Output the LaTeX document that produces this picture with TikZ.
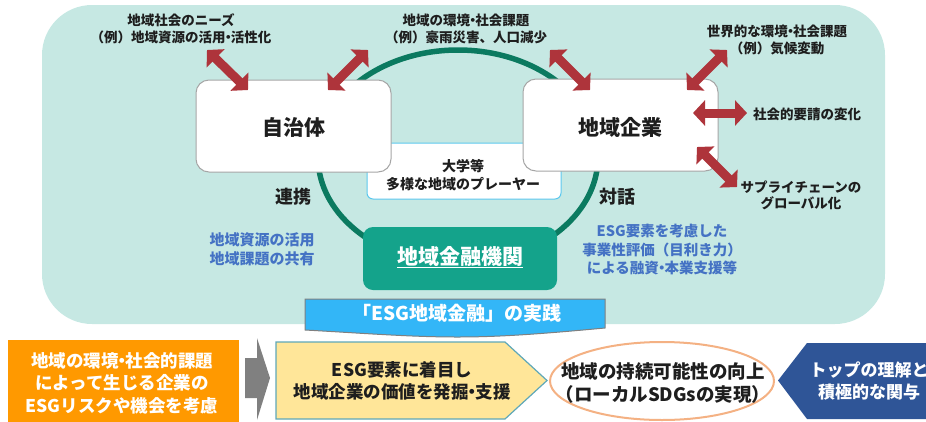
\documentclass[tikz,border=0pt]{standalone}
\usepackage{fontspec}
\setmainfont{Noto Sans CJK JP}
\usetikzlibrary{arrows.meta,shapes.geometric}
\newcommand\nkg{\makebox[0.4em]{・}}
\definecolor{bgteal}{HTML}{C6E8E3}
\definecolor{ringgreen}{HTML}{0B7A60}
\definecolor{arrowred}{HTML}{AE343B}
\definecolor{fingreen}{HTML}{14A38B}
\definecolor{bannerblue}{HTML}{33B6F7}
\definecolor{textblue}{HTML}{4472C4}
\definecolor{boxorange}{HTML}{FF9900}
\definecolor{boxyellow}{HTML}{FFE699}
\definecolor{yellowedge}{HTML}{5FA8B8}
\definecolor{peach}{HTML}{F4B183}
\definecolor{darkblue}{HTML}{2F5597}
\definecolor{arrowgray}{HTML}{808080}
\definecolor{boxgray}{HTML}{A6A6A6}
\definecolor{lightedge}{HTML}{5BC8EE}
\definecolor{ink}{HTML}{1E1E1E}
\begin{document}
\begin{tikzpicture}[x=1pt,y=-1pt,
  whitebox/.style={draw=boxgray, line width=1pt, fill=white, rounded corners=13pt, minimum width=195pt, minimum height=92pt, inner sep=0pt},
  bigtext/.style={font=\fontsize{21}{24}\selectfont\bfseries, text=ink},
  label/.style={font=\fontsize{13.5}{17}\selectfont\bfseries, text=ink, align=center, inner sep=0pt},
  bluelabel/.style={font=\fontsize{14.5}{18.5}\selectfont\bfseries, text=textblue, align=center, inner sep=0pt},
  midtext/.style={font=\fontsize{18}{20}\selectfont\bfseries, text=ink, inner sep=0pt},
  bottomtext/.style={font=\fontsize{17.5}{22.5}\selectfont\bfseries, align=center, inner sep=0pt},
  redarrow/.style={draw=arrowred, line width=9pt, {Triangle[length=12pt,width=25pt]}-{Triangle[length=12pt,width=25pt]}},
]
\useasboundingbox (0,0) rectangle (926,421);
\begin{scope}
\clip (0,0) rectangle (926,421);
% background panel
\fill[bgteal, rounded corners=50pt] (42,5) rectangle (885,324);
% ring
\draw[ringgreen, line width=5.5pt] (458,157) ellipse [x radius=140pt, y radius=107pt];
% university box
\node[draw=lightedge, line width=1pt, fill=white, rounded corners=6pt, minimum width=194pt, minimum height=56pt, inner sep=0pt] (univbox) at (464,171) {};
\node[label, font=\fontsize{14}{18}\selectfont\bfseries] (univ) at (463,175) {大学等\\多様な地域のプレーヤー};
% main boxes
\node[whitebox] (jichitai) at (293.5,126) {};
\node[bigtext] (jichitaiT) at (294,127) {自治体};
\node[whitebox] (kigyo) at (620.5,125) {};
\node[bigtext] (kigyoT) at (620,127) {地域企業};
% finance box
\node[fill=fingreen, rounded corners=10pt, minimum width=194pt, minimum height=63pt, inner sep=0pt] (finbox) at (460,258.5) {};
\node[font=\fontsize{21}{24}\selectfont\bfseries, text=white, inner sep=0pt] (fin) at (460,257) {\underline{地域金融機関}};
% banner
\filldraw[fill=bannerblue, draw=arrowgray, line width=1pt] (305,299) -- (605,299) -- (605,328) .. controls (540,334) and (500,337) .. (457,337) .. controls (410,337) and (360,333) .. (305,330) -- cycle;
\node[font=\fontsize{19}{22}\selectfont\bfseries, text=white, inner sep=0pt] (banner) at (457,313) {「ESG地域金融」の実践};
% labels
\node[label] (needs) at (181,28.5) {地域社会のニーズ\\（例）地域資源の活用\nkg 活性化};
\node[label] (issues) at (466,28.5) {地域の環境\nkg 社会課題\\（例）豪雨災害、人口減少};
\node[label] (global) at (777,40) {世界的な環境\nkg 社会課題\\（例）気候変動};
\node[label, anchor=west] (social) at (753,114) {社会的要請の変化};
\node[label, font=\fontsize{13.5}{15.5}\selectfont\bfseries] (supply) at (801,195.5) {サプライチェーンの\\グローバル化};
\node[midtext] (renkei) at (293,197) {連携};
\node[midtext] (taiwa) at (617,197) {対話};
\node[bluelabel, font=\fontsize{15}{19}\selectfont\bfseries] (share) at (262,249.5) {地域資源の活用\\地域課題の共有};
\node[bluelabel] (esgeval) at (662,250) {ESG要素を考慮した\\事業性評価（目利き力）\\による融資\nkg 本業支援等};
% red double arrows
\coordinate (a1s) at (207,50); \coordinate (a1e) at (248,90);
\coordinate (a2s) at (368,50); \coordinate (a2e) at (328,90);
\coordinate (a3s) at (550,50); \coordinate (a3e) at (590,90);
\coordinate (a4s) at (727,50); \coordinate (a4e) at (687,90);
\coordinate (a5s) at (693,113); \coordinate (a5e) at (747,113);
\coordinate (a6s) at (697,147); \coordinate (a6e) at (737,187);
\draw[redarrow] (a1s) -- (a1e);
\draw[redarrow] (a2s) -- (a2e);
\draw[redarrow] (a3s) -- (a3e);
\draw[redarrow] (a4s) -- (a4e);
\draw[redarrow] (a5s) -- (a5e);
\draw[redarrow] (a6s) -- (a6e);
% bottom row
\node[fill=boxorange, minimum width=231pt, minimum height=82pt, inner sep=0pt, anchor=north west] (orange) at (8,340) {};
\node[bottomtext, text=white] (orangeT) at (122,383) {地域の環境\nkg 社会的課題\\によって生じる企業の\\ESGリスクや機会を考慮};
\fill[arrowgray] (245,358) -- (257,358) -- (257,338) -- (270,378) -- (257,420) -- (257,398) -- (245,398) -- cycle;
\filldraw[fill=boxyellow, draw=yellowedge, line width=1.2pt] (276,342) -- (505,342) -- (547,380.5) -- (505,419) -- (276,419) -- cycle;
\node[bottomtext, text=ink] (yellowT) at (402,381) {ESG要素に着目し\\地域企業の価値を発掘\nkg 支援};
\node[ellipse, draw=peach, line width=2pt, fill=white, minimum width=224pt, minimum height=78pt, inner sep=0pt] (sdg) at (662,381) {};
\node[bottomtext, text=ink, font=\fontsize{18.5}{23}\selectfont\bfseries] (sdgT) at (663,383) {地域の持続可能性の向上\\（ローカルSDGsの実現）};
\fill[darkblue] (778,380.5) -- (807,343) -- (930,343) -- (930,419) -- (807,419) -- cycle;
\node[bottomtext, text=white, font=\fontsize{17}{22}\selectfont\bfseries] (topT) at (869,381) {トップの理解と\\積極的な関与};
\end{scope}
\end{tikzpicture}
\end{document}
